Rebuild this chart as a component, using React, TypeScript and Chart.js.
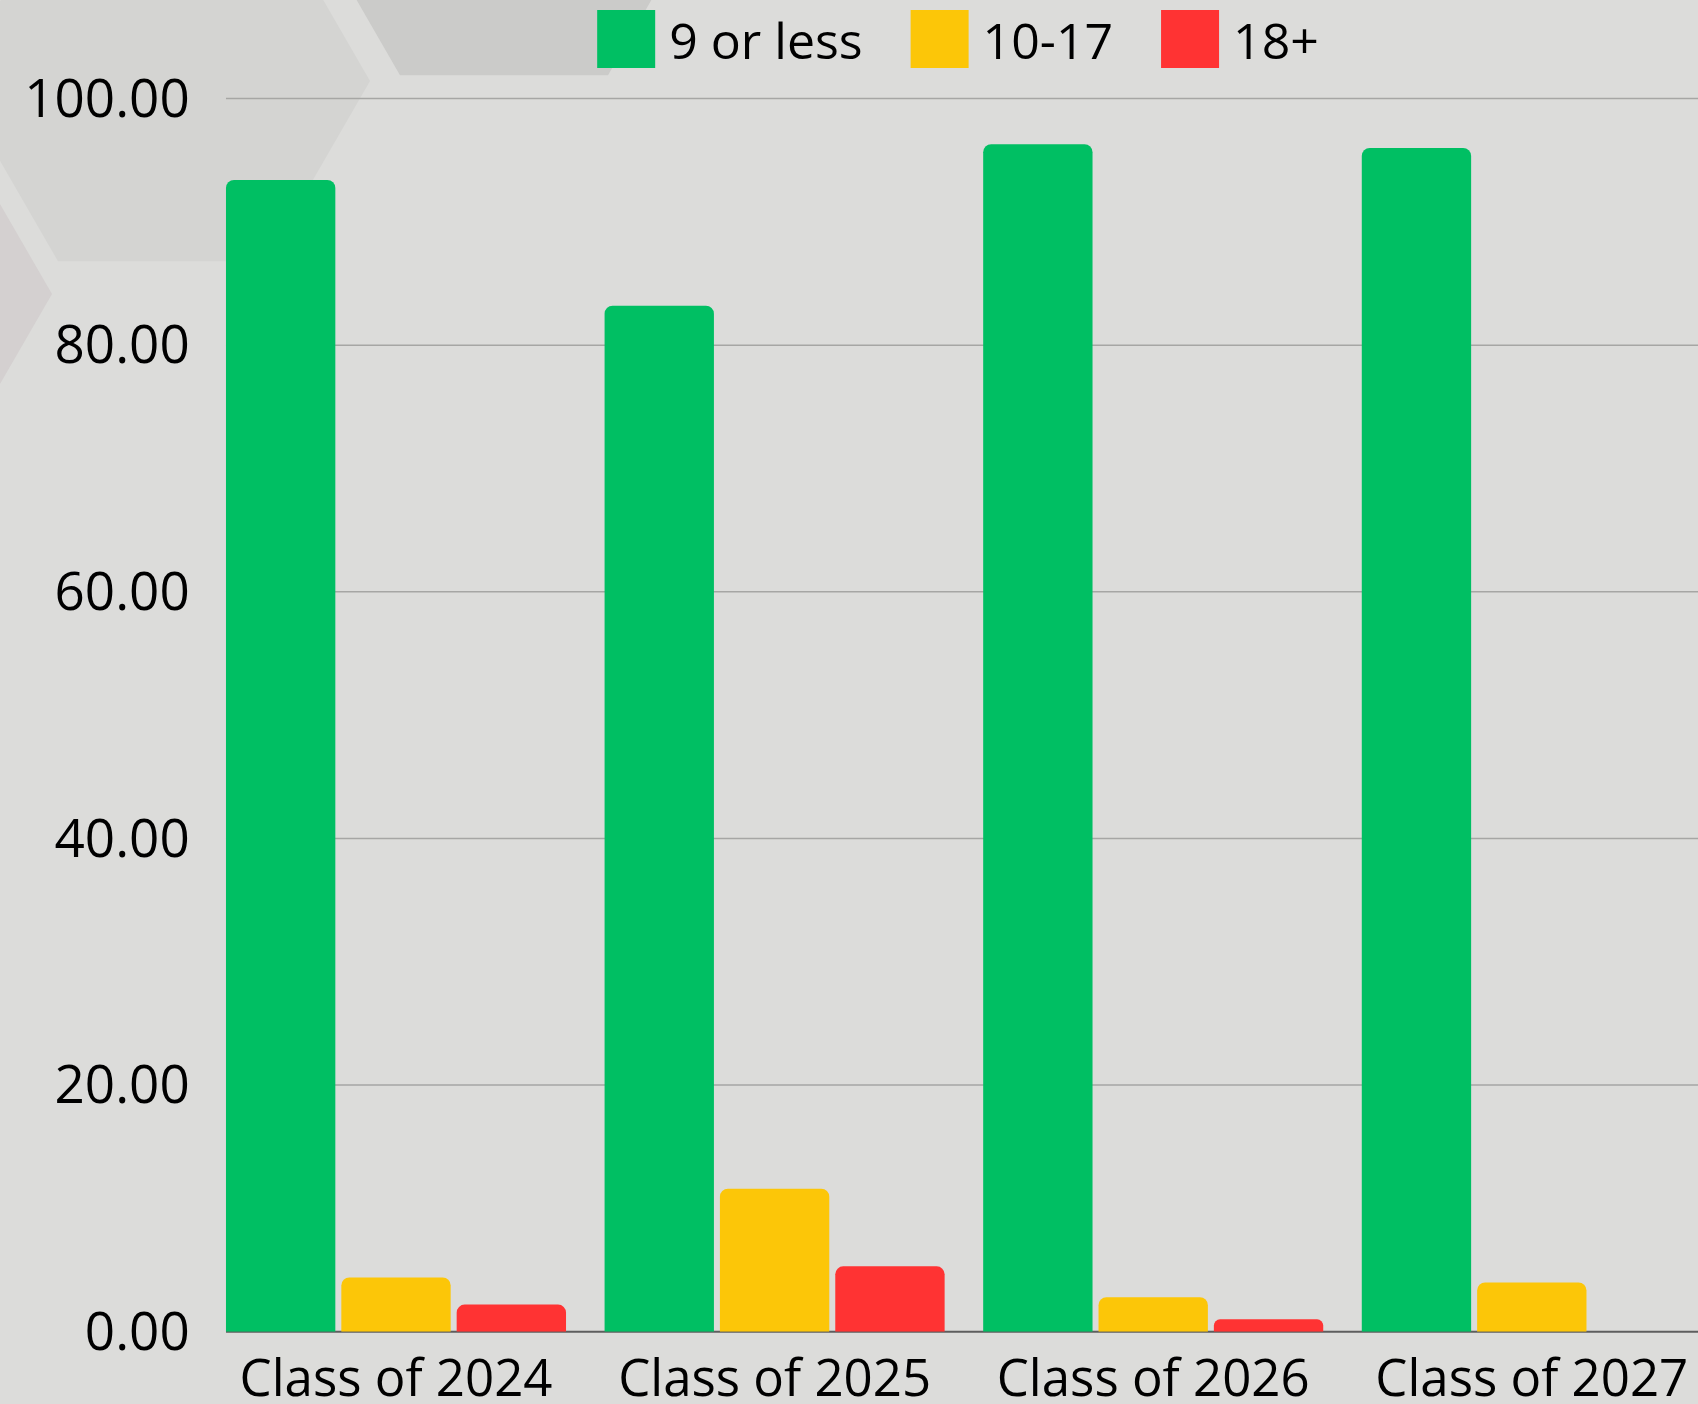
import React, { useEffect, useRef } from 'react';
import { Chart, registerables } from 'chart.js';

Chart.register(...registerables);

// ---- data ----
const categories = ['Class of 2024', 'Class of 2025', 'Class of 2026', 'Class of 2027'];
const seriesLabels = ['9 or less', '10-17', '18+'];
const nineOrLess = [93.4, 83.2, 96.3, 96.0];
const tenToSeventeen = [4.4, 11.6, 2.8, 4.0];
const eighteenPlus = [2.2, 5.3, 1.0, 0];
const seriesColors = ['#00BF63', '#FCC608', '#FF3333'];
const yMin = 0;
const yMax = 100;
const yStep = 20;

const FONT = '"Open Sans", sans-serif';
const BG = '#dcdcda';

const CANVAS_W = 1740;
const CANVAS_H = 1404;

const backgroundPlugin = {
  id: 'bgHex',
  beforeDraw(chart: any) {
    const ctx = chart.ctx;
    ctx.save();
    ctx.fillStyle = BG;
    ctx.fillRect(0, 0, chart.width, chart.height);
    const hex = (cx: number, cy: number, r: number, color: string) => {
      ctx.beginPath();
      for (let i = 0; i < 6; i++) {
        const a = (Math.PI / 3) * i;
        const px = cx + r * Math.cos(a);
        const py = cy + r * Math.sin(a);
        if (i === 0) ctx.moveTo(px, py);
        else ctx.lineTo(px, py);
      }
      ctx.closePath();
      ctx.fillStyle = color;
      ctx.fill();
    };
    hex(162, 81, 208, '#d4d4d2');
    hex(504, -105, 208, '#cbcbc9');
    hex(-156, 294, 208, '#d4d0d0');
    ctx.restore();
  },
};

const gridPlugin = {
  id: 'customGrid',
  beforeDatasetsDraw(chart: any) {
    const ctx = chart.ctx;
    const y = chart.scales.y;
    const first = chart.getDatasetMeta(0).data[0];
    const xStart = first.x - first.width / 2;
    const xEnd = chart.chartArea.right;
    ctx.save();
    y.ticks.forEach((t: any) => {
      const py = y.getPixelForValue(t.value);
      ctx.beginPath();
      if (t.value === 0) {
        ctx.strokeStyle = '#5e5e5e';
        ctx.lineWidth = 2;
      } else {
        ctx.strokeStyle = '#a6a6a4';
        ctx.lineWidth = 1.5;
      }
      ctx.moveTo(xStart, py);
      ctx.lineTo(xEnd, py);
      ctx.stroke();
    });
    ctx.restore();
  },
};

const legendPlugin = {
  id: 'customLegend',
  afterDraw(chart: any) {
    const ctx = chart.ctx;
    ctx.save();
    ctx.font = `50px ${FONT}`;
    const BOX = 58;
    const GAP = 14;
    const SP = 48;
    const items = chart.data.datasets.map((ds: any) => ({
      label: ds.label,
      color: ds.backgroundColor,
      w: ctx.measureText(ds.label).width,
    }));
    const total =
      items.reduce((s: number, it: any) => s + BOX + GAP + it.w, 0) + SP * (items.length - 1);
    let x = 958 - total / 2;
    items.forEach((it: any) => {
      ctx.fillStyle = it.color;
      ctx.fillRect(x, 10, BOX, BOX);
      ctx.fillStyle = '#000';
      ctx.textBaseline = 'alphabetic';
      ctx.textAlign = 'left';
      ctx.fillText(it.label, x + BOX + GAP, 59);
      x += BOX + GAP + it.w + SP;
    });
    ctx.restore();
  },
};

export default function App() {
  const ref = useRef<HTMLCanvasElement | null>(null);

  useEffect(() => {
    if (!ref.current) return;
    const barCommon = {
      borderRadius: { topLeft: 8, topRight: 8, bottomLeft: 0, bottomRight: 0 },
      borderSkipped: 'start',
      barPercentage: 0.948,
      categoryPercentage: 0.914,
    };
    const chart = new Chart(ref.current, {
      type: 'bar',
      data: {
        labels: categories,
        datasets: [
          { label: seriesLabels[0], data: nineOrLess, backgroundColor: seriesColors[0], ...barCommon },
          { label: seriesLabels[1], data: tenToSeventeen, backgroundColor: seriesColors[1], ...barCommon },
          { label: seriesLabels[2], data: eighteenPlus, backgroundColor: seriesColors[2], ...barCommon },
        ] as any,
      },
      options: {
        responsive: false,
        devicePixelRatio: 1,
        animation: false,
        layout: { padding: { top: 98.6, right: CANVAS_W - 1721.1, bottom: 0, left: 0 } },
        plugins: {
          legend: { display: false },
          tooltip: { enabled: false },
        },
        scales: {
          x: {
            offset: true,
            grid: { display: false, drawTicks: false },
            border: { display: false },
            ticks: {
              color: '#000',
              font: { family: FONT, size: 51, lineHeight: 1.2 },
              padding: 19,
              maxRotation: 0,
              autoSkip: false,
            },
            afterFit: (scale: any) => {
              scale.height = CANVAS_H - 1331.7;
            },
          },
          y: {
            min: yMin,
            max: yMax,
            grid: { display: false, drawTicks: false },
            border: { display: false },
            ticks: {
              stepSize: yStep,
              color: '#000',
              font: { family: FONT, size: 53, lineHeight: 1.2 },
              padding: 17,
              labelOffset: 3,
              callback: (v: any) => Number(v).toFixed(2),
            },
            afterFit: (scale: any) => {
              scale.width = 206.7;
            },
          },
        },
      } as any,
      plugins: [backgroundPlugin, gridPlugin, legendPlugin],
    });
    return () => chart.destroy();
  }, []);

  return (
    <div
      style={{
        position: 'fixed',
        left: 0,
        top: 0,
        width: 1698,
        height: 1404,
        overflow: 'hidden',
        background: BG,
      }}
    >
      <canvas ref={ref} width={CANVAS_W} height={CANVAS_H} style={{ display: 'block' }} />
    </div>
  );
}
